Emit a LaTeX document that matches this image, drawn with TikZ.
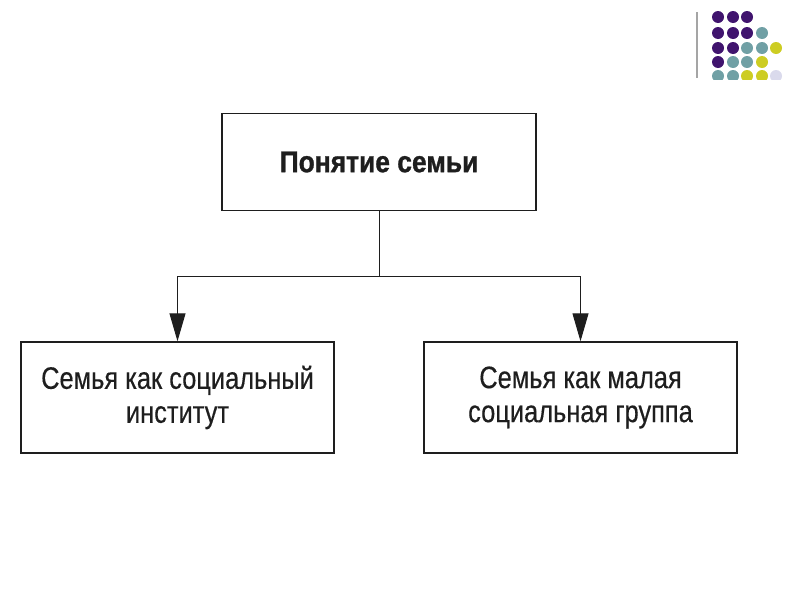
\documentclass[tikz,border=0pt]{standalone}
\usepackage{fontspec}
\setmainfont{Liberation Sans}
\newfontfamily\condfont[FakeStretch=0.82,FakeBold=0.4]{Liberation Sans}
\newfontfamily\condbold[FakeStretch=0.88,FakeBold=1.0]{Liberation Sans Bold}
\usetikzlibrary{arrows.meta}
\definecolor{dotpurple}{RGB}{64,20,110}
\definecolor{dotteal}{RGB}{112,160,165}
\definecolor{dotyellow}{RGB}{205,205,35}
\definecolor{dotlav}{RGB}{218,218,236}
\definecolor{rulegray}{RGB}{165,165,165}
\definecolor{inktext}{RGB}{30,30,30}
\tikzset{
  box/.style={draw=inktext, line width=1.4pt, rectangle, minimum width=313pt, minimum height=111pt, inner sep=0pt, align=center, text=inktext},
  titlebox/.style={box, minimum width=314pt, minimum height=97pt, font=\condbold\fontsize{30}{34}\selectfont},
  subbox/.style={box, font=\condfont\fontsize{31}{34}\selectfont},
  conn/.style={draw=inktext, line width=1pt},
  arr/.style={conn, -{Triangle[width=16pt,length=28pt]}},
  dot/.style={circle, inner sep=0pt, minimum size=12pt}
}
\begin{document}
\begin{tikzpicture}[x=1pt,y=-1pt]
\useasboundingbox (0,0) rectangle (800,600);
% decoration
\draw[rulegray, line width=1.2pt] (697,12) -- (697,78);
\begin{scope}
\clip (700,0) rectangle (800,79);
\foreach \x/\y/\c in {718/17/dotpurple,733/17/dotpurple,747/17/dotpurple,
  718/33/dotpurple,733/33/dotpurple,747/33/dotpurple,762/33/dotteal,
  718/48/dotpurple,733/48/dotpurple,747/48/dotteal,762/48/dotteal,776/48/dotyellow,
  718/62/dotpurple,733/62/dotteal,747/62/dotteal,762/62/dotyellow,
  718/76/dotteal,733/76/dotteal,747/76/dotyellow,762/76/dotyellow,776/76/dotlav}
  \fill[\c] (\x,\y) circle (6);
\end{scope}
% nodes
\node[titlebox] (top) at (379,162) {Понятие семьи};
\node[subbox] (left) at (177.5,397.5) {Семья как социальный\\институт};
\node[subbox] (right) at (580.5,397.5) {Семья как малая\\социальная группа};
\coordinate (j) at (379,276);
\draw[conn] (top.south) -- (j);
\draw[arr] (j) -| (left.north);
\draw[arr] (j) -| (right.north);
\end{tikzpicture}
\end{document}
